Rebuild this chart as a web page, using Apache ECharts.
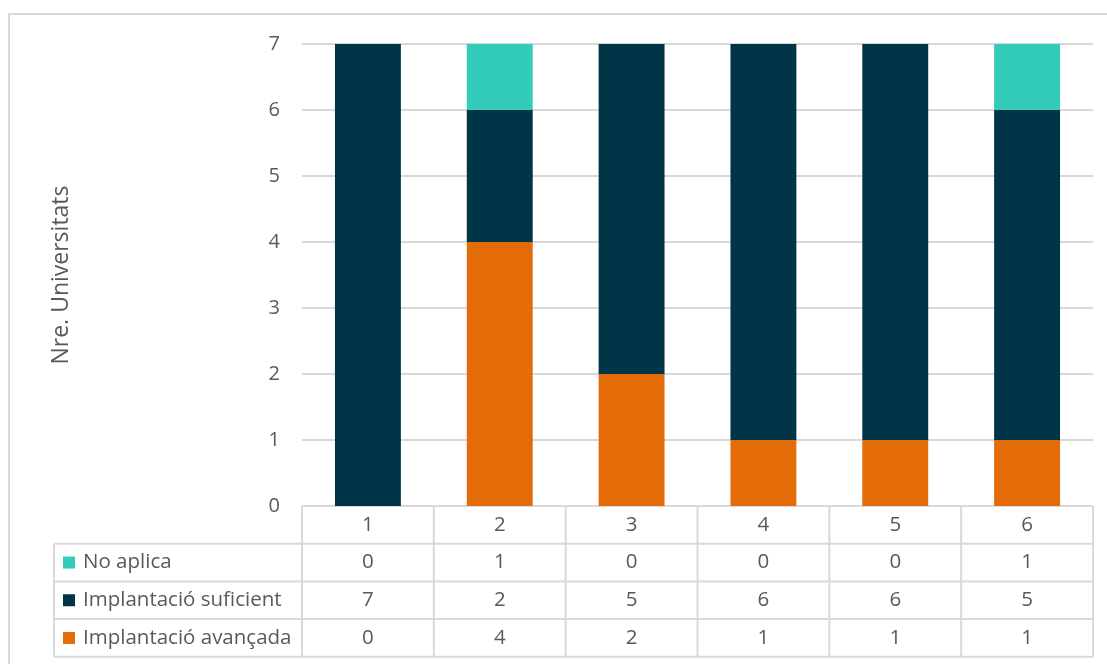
<!DOCTYPE html>
<html>
<head>
<meta charset="utf-8">
<script src="https://cdn.jsdelivr.net/npm/echarts@6/dist/echarts.min.js"></script>
<style>
  html, body { margin: 0; padding: 0; background: #ffffff; }
  #chart { width: 1107px; height: 664px; }
</style>
</head>
<body>
<div id="chart"></div>
<script>
// Categories along the x axis
const categories = ['1', '2', '3', '4', '5', '6'];
// Series values (number of universities)
const noAplica = [0, 1, 0, 0, 0, 1];
const suficient = [7, 2, 5, 6, 6, 5];
const avancada = [0, 4, 2, 1, 1, 1];
// Series names as shown in the data table
const seriesNames = ['No aplica', 'Implantació suficient', 'Implantació avançada'];
const yTicks = [0, 1, 2, 3, 4, 5, 6, 7];

const COLORS = { noAplica: '#33CCBB', suficient: '#003547', avancada: '#E36C09' };
const FONT = '"Open Sans", Lato, sans-serif';
const TEXT = '#595959';
const LINE = '#d9d9d9';
const TABLE_FONT_SIZE = 20.5;

const chart = echarts.init(document.getElementById('chart'), null, { renderer: 'canvas' });

const option = {
  animation: false,
  backgroundColor: '#ffffff',
  grid: { left: 302, right: 14, top: 44, bottom: 158, containLabel: false },
  xAxis: {
    type: 'category',
    data: categories,
    axisLine: { show: false },
    axisTick: { show: false },
    axisLabel: { show: false }
  },
  yAxis: {
    type: 'value',
    min: yTicks[0],
    max: yTicks[yTicks.length - 1],
    interval: 1,
    name: 'Nre. Universitats',
    nameLocation: 'middle',
    nameGap: 229,
    nameRotate: 90,
    nameTextStyle: { fontFamily: FONT, fontSize: 23, color: TEXT },
    axisLine: { show: false },
    axisTick: { show: false },
    axisLabel: { fontFamily: FONT, fontSize: 20, color: TEXT, margin: 22 },
    splitLine: { lineStyle: { color: LINE, width: 2 } }
  },
  series: [
    { name: seriesNames[2], type: 'bar', stack: 'total', data: avancada, barWidth: '50%',
      itemStyle: { color: COLORS.avancada } },
    { name: seriesNames[1], type: 'bar', stack: 'total', data: suficient, barWidth: '50%',
      itemStyle: { color: COLORS.suficient } },
    { name: seriesNames[0], type: 'bar', stack: 'total', data: noAplica, barWidth: '50%',
      itemStyle: { color: COLORS.noAplica } }
  ]
};
chart.setOption(option);

// Data table under the plot, laid out from the axis scale
function buildTable() {
  const y0 = chart.convertToPixel({ yAxisIndex: 0 }, 0);
  const c0 = chart.convertToPixel({ xAxisIndex: 0 }, categories[0]);
  const c1 = chart.convertToPixel({ xAxisIndex: 0 }, categories[1]);
  const colW = c1 - c0;
  const left = c0 - colW / 2;
  const right = left + colW * categories.length;
  const rowH = 37.7;
  const legendLeft = 54;
  const els = [];
  const line = (x1, y1, x2, y2) => els.push({
    type: 'line', shape: { x1, y1, x2, y2 },
    style: { stroke: LINE, lineWidth: 2 }, silent: true
  });
  const text = (x, y, t, align) => els.push({
    type: 'text', x, y,
    style: { text: t, fill: TEXT, font: TABLE_FONT_SIZE + 'px ' + FONT, align: align || 'center', verticalAlign: 'middle' },
    silent: true
  });

  // outer frame
  els.push({ type: 'rect', shape: { x: 9, y: 14, width: 1120, height: 700 },
    style: { fill: null, stroke: LINE, lineWidth: 2 }, silent: true });

  // horizontal rules
  line(left, y0, right, y0);
  for (let r = 1; r <= 4; r++) line(legendLeft, y0 + rowH * r, right, y0 + rowH * r);
  // vertical rules
  for (let c = 0; c <= categories.length; c++) line(left + colW * c, y0, left + colW * c, y0 + rowH * 4);
  line(legendLeft, y0 + rowH, legendLeft, y0 + rowH * 4);

  // category header
  categories.forEach((cat) => {
    const x = chart.convertToPixel({ xAxisIndex: 0 }, cat);
    text(x, y0 + rowH * 0.5, cat);
  });
  // series rows
  const rows = [
    { name: seriesNames[0], color: COLORS.noAplica, vals: noAplica },
    { name: seriesNames[1], color: COLORS.suficient, vals: suficient },
    { name: seriesNames[2], color: COLORS.avancada, vals: avancada }
  ];
  rows.forEach((row, r) => {
    const cy = y0 + rowH * (r + 1.5);
    els.push({ type: 'rect', shape: { x: 63, y: cy - 6, width: 12, height: 12 },
      style: { fill: row.color }, silent: true });
    text(83, cy, row.name, 'left');
    row.vals.forEach((v, i) => {
      const x = chart.convertToPixel({ xAxisIndex: 0 }, categories[i]);
      text(x, cy, String(v));
    });
  });
  chart.setOption({ graphic: { elements: els } });
}
buildTable();
</script>
</body>
</html>
